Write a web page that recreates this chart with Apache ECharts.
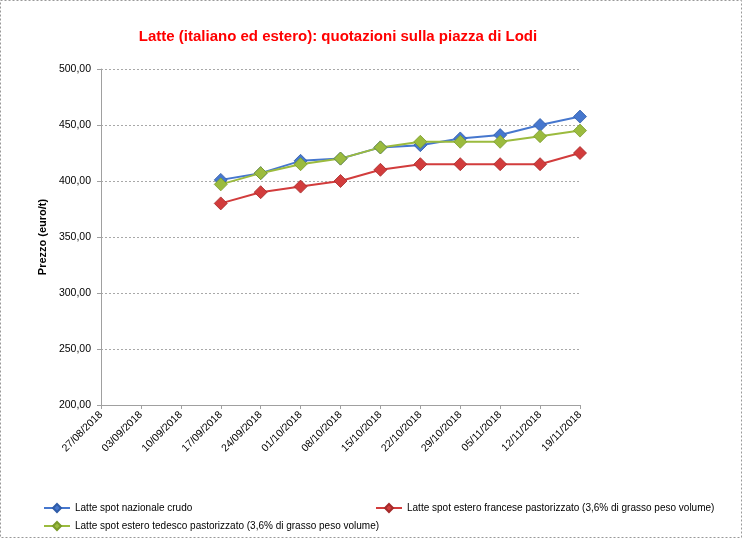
<!DOCTYPE html>
<html><head><meta charset="utf-8">
<script src="https://cdn.jsdelivr.net/npm/echarts@6/dist/echarts.min.js"></script>
<style>html,body{margin:0;padding:0;background:#fff}#c{width:742px;height:538px}</style>
</head><body><div id="c"></div>
<script>
const categories = ['27/08/2018','03/09/2018','10/09/2018','17/09/2018','24/09/2018','01/10/2018','08/10/2018','15/10/2018','22/10/2018','29/10/2018','05/11/2018','12/11/2018','19/11/2018'];
const nazionale = [null,null,null,401,407,418,420,430,432,438,441,450,457.5];
const francese = [null,null,null,380,390,395,400,410,415,415,415,415,425];
const tedesco = [null,null,null,397,407,415,420,430,435,435,435,440,445];
const names = ['Latte spot nazionale crudo','Latte spot estero francese pastorizzato (3,6% di grasso peso volume)','Latte spot estero tedesco pastorizzato (3,6% di grasso peso volume)'];
const colors = ['#4677CE','#D23C3C','#9BBB3E'];
const borders = ['#2F5CA8','#A52A2A','#7A9A2A'];
const font = 'Liberation Sans, Arial, sans-serif';

const chart = echarts.init(document.getElementById('c'));
function mk(i, data){
  return {name:names[i], type:'line', data:data, symbol:'diamond', symbolSize:13,
    lineStyle:{color:colors[i], width:2}, itemStyle:{color:colors[i], borderColor:borders[i], borderWidth:0.8},
    emphasis:{disabled:true}, animation:false, connectNulls:false};
}
function leg(i, left, top){
  return {data:[names[i]], left:left, top:top, itemWidth:26, itemHeight:10, itemGap:6,
    textStyle:{fontFamily:font, fontSize:10, color:'#000'}};
}
chart.setOption({
  animation:false,
  color:colors,
  title:{text:'Latte (italiano ed estero): quotazioni sulla piazza di Lodi', left:333, textAlign:'center', top:24,
    textStyle:{color:'#FF0000', fontFamily:font, fontWeight:'bold', fontSize:15}},
  graphic:[{type:'rect', shape:{x:0.5,y:0.5,width:741,height:537}, style:{fill:null, stroke:'#999', lineWidth:1, lineDash:[2,2]}}],
  legend:[leg(0,38,498), leg(1,370,498), leg(2,38,516)],
  grid:{left:101, right:162, top:69, bottom:133},
  xAxis:{type:'category', data:categories, boundaryGap:false,
    axisLine:{lineStyle:{color:'#A0A0A0'}}, axisTick:{show:true, length:4, lineStyle:{color:'#A0A0A0'}},
    axisLabel:{rotate:45, fontFamily:font, fontSize:10.5, color:'#000', margin:8, interval:0}},
  yAxis:{type:'value', min:200, max:500, interval:50, name:'Prezzo (euro/t)', nameLocation:'middle', nameGap:52,
    nameTextStyle:{fontFamily:font, fontWeight:'bold', fontSize:11, color:'#000'},
    axisLine:{show:true, lineStyle:{color:'#A0A0A0'}}, axisTick:{show:true, length:4, lineStyle:{color:'#A0A0A0'}},
    splitLine:{lineStyle:{color:'#A8A8A8', type:[2,2]}},
    axisLabel:{fontFamily:font, fontSize:10.5, color:'#000', margin:10, formatter:v=>v.toFixed(2).replace('.',',')}},
  series:[mk(0,nazionale), mk(1,francese), mk(2,tedesco)]
});
</script></body></html>
